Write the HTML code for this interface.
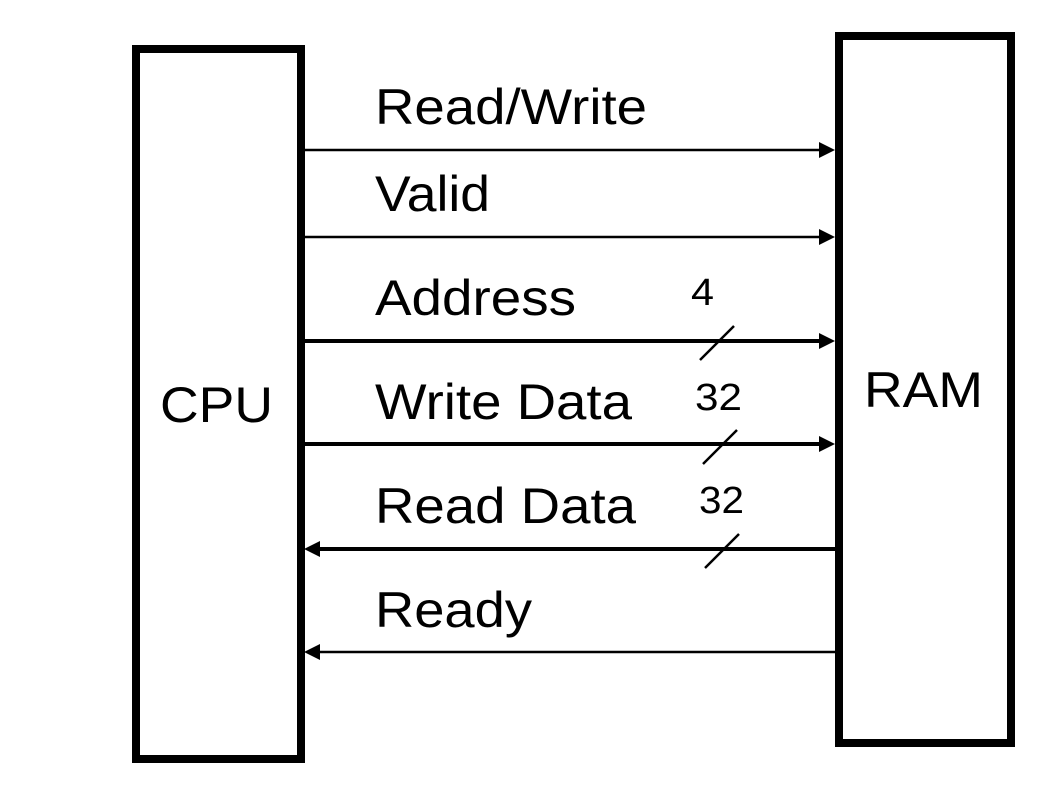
<!DOCTYPE html>
<html><head><meta charset="utf-8"><style>
html,body{margin:0;padding:0;background:#fff;}
svg{display:block;}
text{font-family:"Liberation Sans",Arial,sans-serif;fill:#000;}
</style></head><body>
<svg width="1058" height="794" viewBox="0 0 1058 794" xmlns="http://www.w3.org/2000/svg">
<rect x="136" y="49" width="165" height="710" fill="none" stroke="#000" stroke-width="8"/>
<rect x="839" y="36" width="172" height="707" fill="none" stroke="#000" stroke-width="8"/>
<text x="160" y="422" font-size="50" textLength="113" lengthAdjust="spacingAndGlyphs">CPU</text>
<text x="864" y="407" font-size="50" textLength="119" lengthAdjust="spacingAndGlyphs">RAM</text>
<g font-size="50">
<text x="375" y="124" textLength="272" lengthAdjust="spacingAndGlyphs">Read/Write</text>
<text x="375" y="211" textLength="115" lengthAdjust="spacingAndGlyphs">Valid</text>
<text x="375" y="315" textLength="201" lengthAdjust="spacingAndGlyphs">Address</text>
<text x="375" y="419" textLength="257" lengthAdjust="spacingAndGlyphs">Write Data</text>
<text x="375" y="523" textLength="261" lengthAdjust="spacingAndGlyphs">Read Data</text>
<text x="375" y="627" textLength="157" lengthAdjust="spacingAndGlyphs">Ready</text>
</g>
<g font-size="38">
<text x="691" y="305" textLength="23" lengthAdjust="spacingAndGlyphs">4</text>
<text x="695" y="410" textLength="47" lengthAdjust="spacingAndGlyphs">32</text>
<text x="699" y="513" textLength="45" lengthAdjust="spacingAndGlyphs">32</text>
</g>
<g stroke="#000">
<line x1="305" y1="150" x2="822" y2="150" stroke-width="2.5"/>
<line x1="305" y1="237" x2="822" y2="237" stroke-width="2.5"/>
<line x1="305" y1="341" x2="822" y2="341" stroke-width="4"/>
<line x1="305" y1="444" x2="822" y2="444" stroke-width="4"/>
<line x1="318" y1="549" x2="835" y2="549" stroke-width="4"/>
<line x1="318" y1="652" x2="835" y2="652" stroke-width="2.5"/>
<line x1="700" y1="360" x2="734" y2="326" stroke-width="2.5"/>
<line x1="703" y1="464" x2="737" y2="430" stroke-width="2.5"/>
<line x1="705" y1="568" x2="739" y2="534" stroke-width="2.5"/>
</g>
<g fill="#000">
<polygon points="835,150 819,142 819,158"/>
<polygon points="835,237 819,229 819,245"/>
<polygon points="835,341 819,333 819,349"/>
<polygon points="835,444 819,436 819,452"/>
<polygon points="304,549 320,541 320,557"/>
<polygon points="304,652 320,644 320,660"/>
</g>
</svg>
</body></html>
